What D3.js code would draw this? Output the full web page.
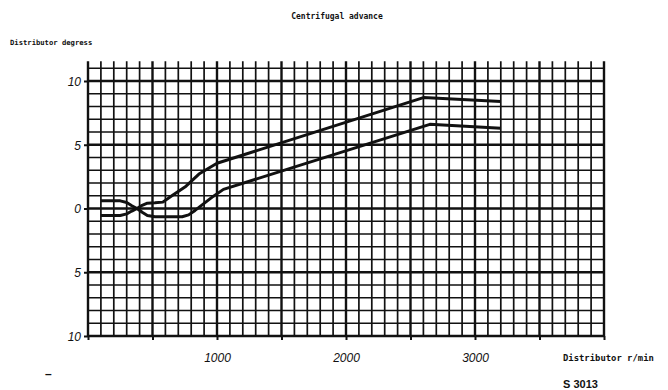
<!DOCTYPE html>
<html>
<head>
<meta charset="utf-8">
<title>Centrifugal advance</title>
<script src="https://cdn.jsdelivr.net/npm/d3@7"></script>
<style>
  body { margin: 0; background: #fff; }
  svg { display: block; }
  .lbl { font-family: "DejaVu Sans Mono", monospace; font-weight: bold; fill: #111; }
  .tick text { font-family: "Liberation Sans", Arial, sans-serif; font-style: italic; font-size: 12px; fill: #111; }
</style>
</head>
<body>
<svg width="668" height="390"></svg>
<script>
  // chart data
  var rpmTicks = [0, 500, 1000, 1500, 2000, 2500, 3000, 3500, 4000];
  var rpmLabels = [1000, 2000, 3000];
  var degTicks = [-10, -5, 0, 5, 10];

  // upper limit of advance band (rpm, degrees)
  var upperRpm = [100, 250, 300, 340, 380, 420, 460, 520, 580, 650, 760, 860, 1000, 2600, 3200];
  var upperDeg = [-0.55, -0.55, -0.42, -0.2, 0, 0.25, 0.42, 0.45, 0.5, 1.0, 1.75, 2.7, 3.55, 8.7, 8.4];

  // lower limit of advance band
  var lowerRpm = [100, 250, 300, 340, 380, 420, 460, 520, 730, 780, 830, 900, 970, 1050, 2650, 3200];
  var lowerDeg = [0.6, 0.6, 0.47, 0.22, 0, -0.3, -0.55, -0.65, -0.65, -0.5, -0.15, 0.4, 0.95, 1.5, 6.6, 6.3];

  var svg = d3.select('svg');
  var ink = '#111';

  var x = d3.scaleLinear().domain([0, 4000]).range([88, 604]);
  var y = d3.scaleLinear().domain([-10, 10]).range([336, 81]);

  var grid = svg.append('g');

  // vertical grid lines every 100 r/min, heavier every 500
  grid.selectAll('line.v')
      .data(d3.range(0, 4001, 100))
    .enter().append('line')
      .attr('class', 'v')
      .attr('x1', function(d) { return x(d); })
      .attr('x2', function(d) { return x(d); })
      .attr('y1', y(11) - 7)
      .attr('y2', y(-10))
      .attr('stroke', ink)
      .attr('stroke-width', function(d) { return d % 500 === 0 ? 2.4 : 1.7; });

  // horizontal grid lines every degree, heavier every 5
  grid.selectAll('line.h')
      .data(d3.range(-10, 12, 1))
    .enter().append('line')
      .attr('class', 'h')
      .attr('x1', x(0))
      .attr('x2', x(4000))
      .attr('y1', function(d) { return y(d); })
      .attr('y2', function(d) { return y(d); })
      .attr('stroke', ink)
      .attr('stroke-width', function(d) { return d % 5 === 0 ? 2.4 : 1.7; });

  // axes: only ticks + labels, the grid already draws the frame
  var yAxis = d3.axisLeft(y)
      .tickValues(degTicks)
      .tickSize(4)
      .tickPadding(3)
      .tickFormat(function(d) { return Math.abs(d); });

  svg.append('g')
      .attr('transform', 'translate(' + x(0) + ',0)')
      .call(yAxis)
      .call(function(g) { g.select('.domain').remove(); })
      .call(function(g) { g.selectAll('.tick line').attr('stroke', ink).attr('stroke-width', 2); })
      .call(function(g) { g.selectAll('.tick text').attr('dy', '0.36em'); });

  var xAxis = d3.axisBottom(x)
      .tickValues(rpmTicks)
      .tickSize(4)
      .tickPadding(13)
      .tickFormat(function(d) { return rpmLabels.indexOf(d) >= 0 ? d : ''; });

  svg.append('g')
      .attr('transform', 'translate(0,' + y(-10) + ')')
      .call(xAxis)
      .call(function(g) { g.select('.domain').remove(); })
      .call(function(g) { g.selectAll('.tick line').attr('stroke', ink).attr('stroke-width', 2); });

  // the two limit curves
  var line = d3.line()
      .x(function(d) { return x(d[0]); })
      .y(function(d) { return y(d[1]); })
      .curve(d3.curveLinear);

  var curves = [
    d3.zip(upperRpm, upperDeg),
    d3.zip(lowerRpm, lowerDeg)
  ];

  svg.selectAll('path.curve')
      .data(curves)
    .enter().append('path')
      .attr('class', 'curve')
      .attr('d', line)
      .attr('fill', 'none')
      .attr('stroke', ink)
      .attr('stroke-width', 3)
      .attr('stroke-linejoin', 'round');

  // texts
  svg.append('text')
      .attr('class', 'lbl')
      .attr('x', 337)
      .attr('y', 19)
      .attr('text-anchor', 'middle')
      .style('font-size', '8px')
      .text('Centrifugal advance');

  svg.append('text')
      .attr('class', 'lbl')
      .attr('x', 10)
      .attr('y', 45)
      .style('font-size', '7.2px')
      .text('Distributor degress');

  svg.append('text')
      .attr('class', 'lbl')
      .attr('x', 563)
      .attr('y', 361)
      .style('font-size', '8.9px')
      .text('Distributor r/min');

  svg.append('text')
      .attr('x', 563)
      .attr('y', 388)
      .style('font-family', '"Liberation Sans", Arial, sans-serif')
      .style('font-weight', 'bold')
      .style('font-size', '11px')
      .attr('fill', ink)
      .text('S 3013');

  svg.append('text')
      .attr('x', 45)
      .attr('y', 378)
      .style('font-family', '"Liberation Sans", Arial, sans-serif')
      .style('font-weight', 'bold')
      .style('font-size', '12px')
      .attr('fill', ink)
      .text('–');
</script>
</body>
</html>
